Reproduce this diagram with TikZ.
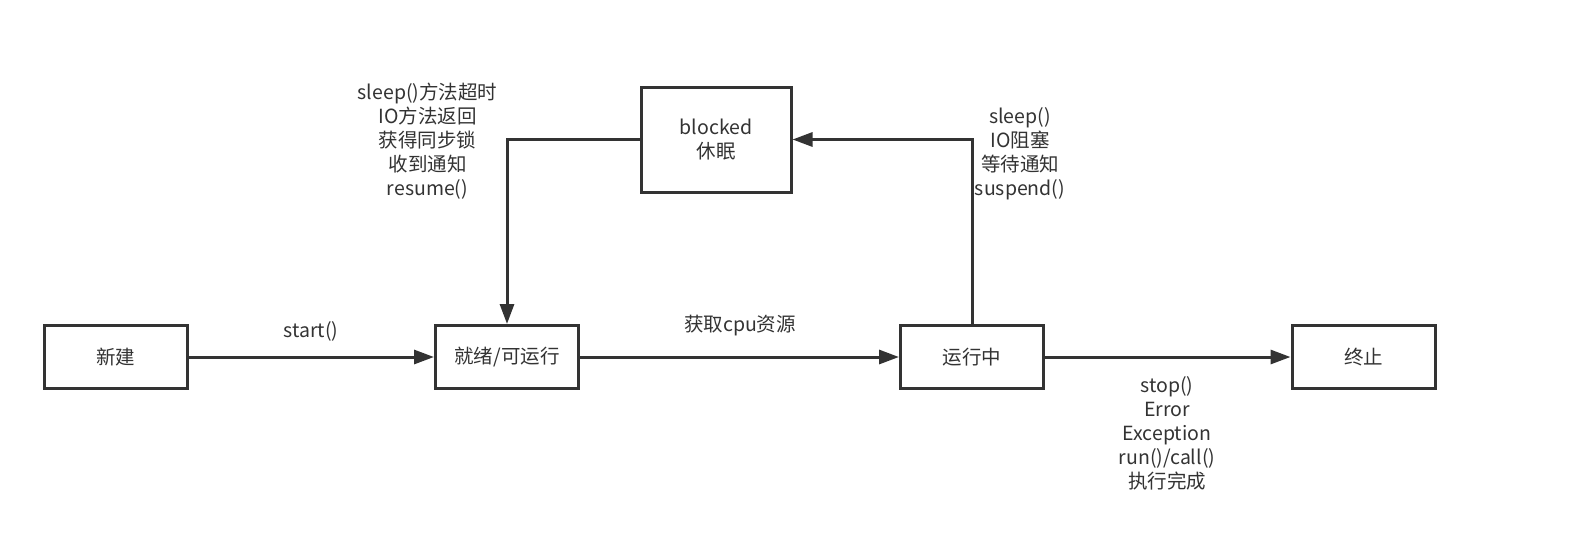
\documentclass[tikz,border=0pt]{standalone}
\usepackage{fontspec}
\setmainfont{Noto Sans CJK SC}
\usetikzlibrary{arrows.meta}
\definecolor{ink}{RGB}{51,51,51}
\begin{document}
\begin{tikzpicture}[x=1pt,y=-1pt,
  every node/.style={font=\fontsize{19.5pt}{24pt}\selectfont, text=ink},
  state/.style={draw=ink, line width=3pt, fill=white, minimum width=143pt, minimum height=63pt, inner sep=0pt},
  lbl/.style={align=center, inner sep=0pt},
  arr/.style={draw=ink, line width=3pt, -{Triangle[length=20pt,width=14pt]}}]
\useasboundingbox[fill=white] (0,0) rectangle (1581,538);
\node[state] (xinjian) at (115.5,357) {新建};
\node[state] (jiuxu) at (507,357) {就绪/可运行};
\node[state] (yunxing) at (972,357) {运行中};
\node[state] (zhongzhi) at (1363.5,357) {终止};
\node[state, minimum width=150pt, minimum height=105pt, align=center] (blocked) at (716,139.5) {blocked\\休眠};

\draw[arr] (xinjian) -- (jiuxu);
\draw[arr] (jiuxu) -- (yunxing);
\draw[arr] (yunxing) -- (zhongzhi);
\draw[arr] (yunxing.north) |- (blocked.east);
\draw[arr] (blocked.west) -| (jiuxu.north);

\node[lbl] (lstart) at (311,331) {start()};
\node[lbl] (lcpu) at (740,326) {获取cpu资源};
\node[lbl] (lwake) at (427.5,141) {sleep()方法超时\\IO方法返回\\获得同步锁\\收到通知\\resume()};
\node[lbl] (lblock) at (1020,153.5) {sleep()\\IO阻塞\\等待通知\\suspend()};
\node[lbl] (lend) at (1167,433) {stop()\\Error\\Exception\\run()/call()\\执行完成};
\end{tikzpicture}
\end{document}
